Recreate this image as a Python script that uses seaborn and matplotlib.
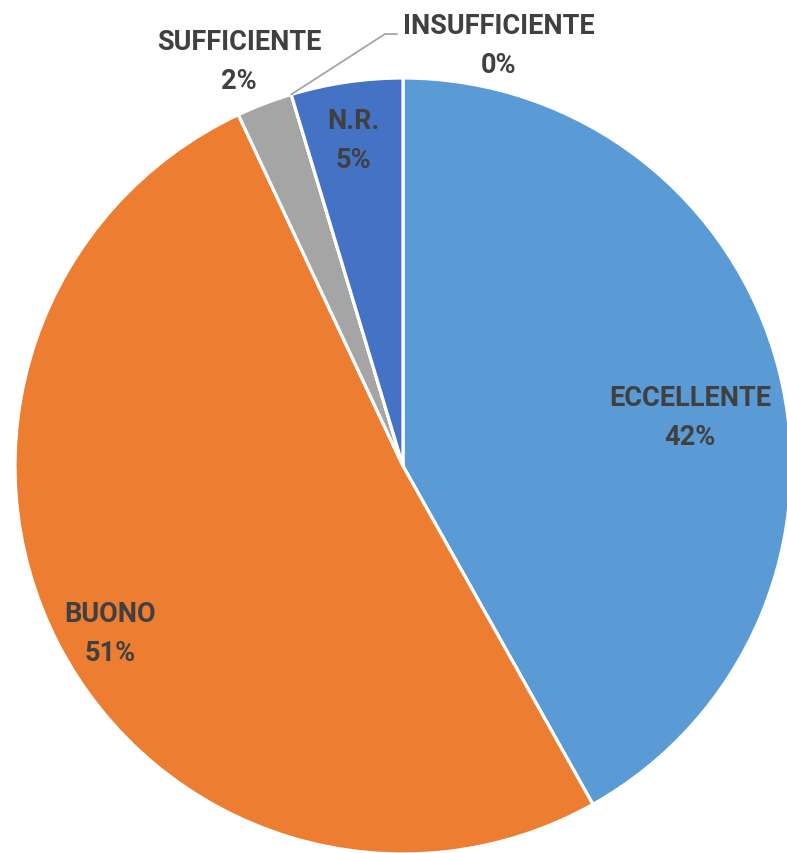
import matplotlib
matplotlib.use("Agg")
import matplotlib.pyplot as plt
import seaborn as sns
import numpy as np

sns.set_theme(style="white")
plt.rcParams['font.family'] = ['Roboto', 'DejaVu Sans']

categories = ["ECCELLENTE", "BUONO", "SUFFICIENTE", "INSUFFICIENTE", "N.R."]
counts = [18, 22, 1, 0, 2]
colors = ["#5B9BD5", "#ED7D31", "#A5A5A5", "#FFC000", "#4472C4"]

# label centers in pixel coordinates of the figure (style / layout)
label_px = {
    "ECCELLENTE": (690, 418),
    "BUONO": (110, 634),
    "SUFFICIENTE": (239, 62),
    "INSUFFICIENTE": (499, 46),
    "N.R.": (353, 141),
}

W, H = 787, 854
cx, cy, R = 403, 467, 388

fig = plt.figure(figsize=(W / 100, H / 100), dpi=100)
ax = fig.add_axes([0, 0, 1, 1])

wedges, _ = ax.pie(
    counts, colors=colors, startangle=90, counterclock=False,
    radius=1.0, wedgeprops=dict(edgecolor="white", linewidth=2.3),
)
ax.set_xlim(-cx / R, (W - cx) / R)
ax.set_ylim((cy - H) / R, cy / R)
ax.set_aspect("equal")
ax.axis("off")

total = sum(counts)
def to_data(px, py):
    return (px - cx) / R, (cy - py) / R

for cat, val in zip(categories, counts):
    pct = f"{round(100 * val / total)}%"
    x, y = to_data(*label_px[cat])
    ax.text(x, y, f"{cat}\n{pct}", ha="center", va="center",
            fontsize=19.5, fontweight="bold", color="#404040",
            linespacing=1.58)

# leader line for INSUFFICIENTE (0%) slice
w = wedges[3]
ang = np.deg2rad(w.theta1)
x0, y0 = np.cos(ang), np.sin(ang)
x1, y1 = to_data(385, 35)
x2, y2 = to_data(397, 35)
ax.plot([x0, x1, x2], [y0, y1, y2], color="#A5A5A5", linewidth=1.3)

fig.savefig("out.png", dpi=100)
